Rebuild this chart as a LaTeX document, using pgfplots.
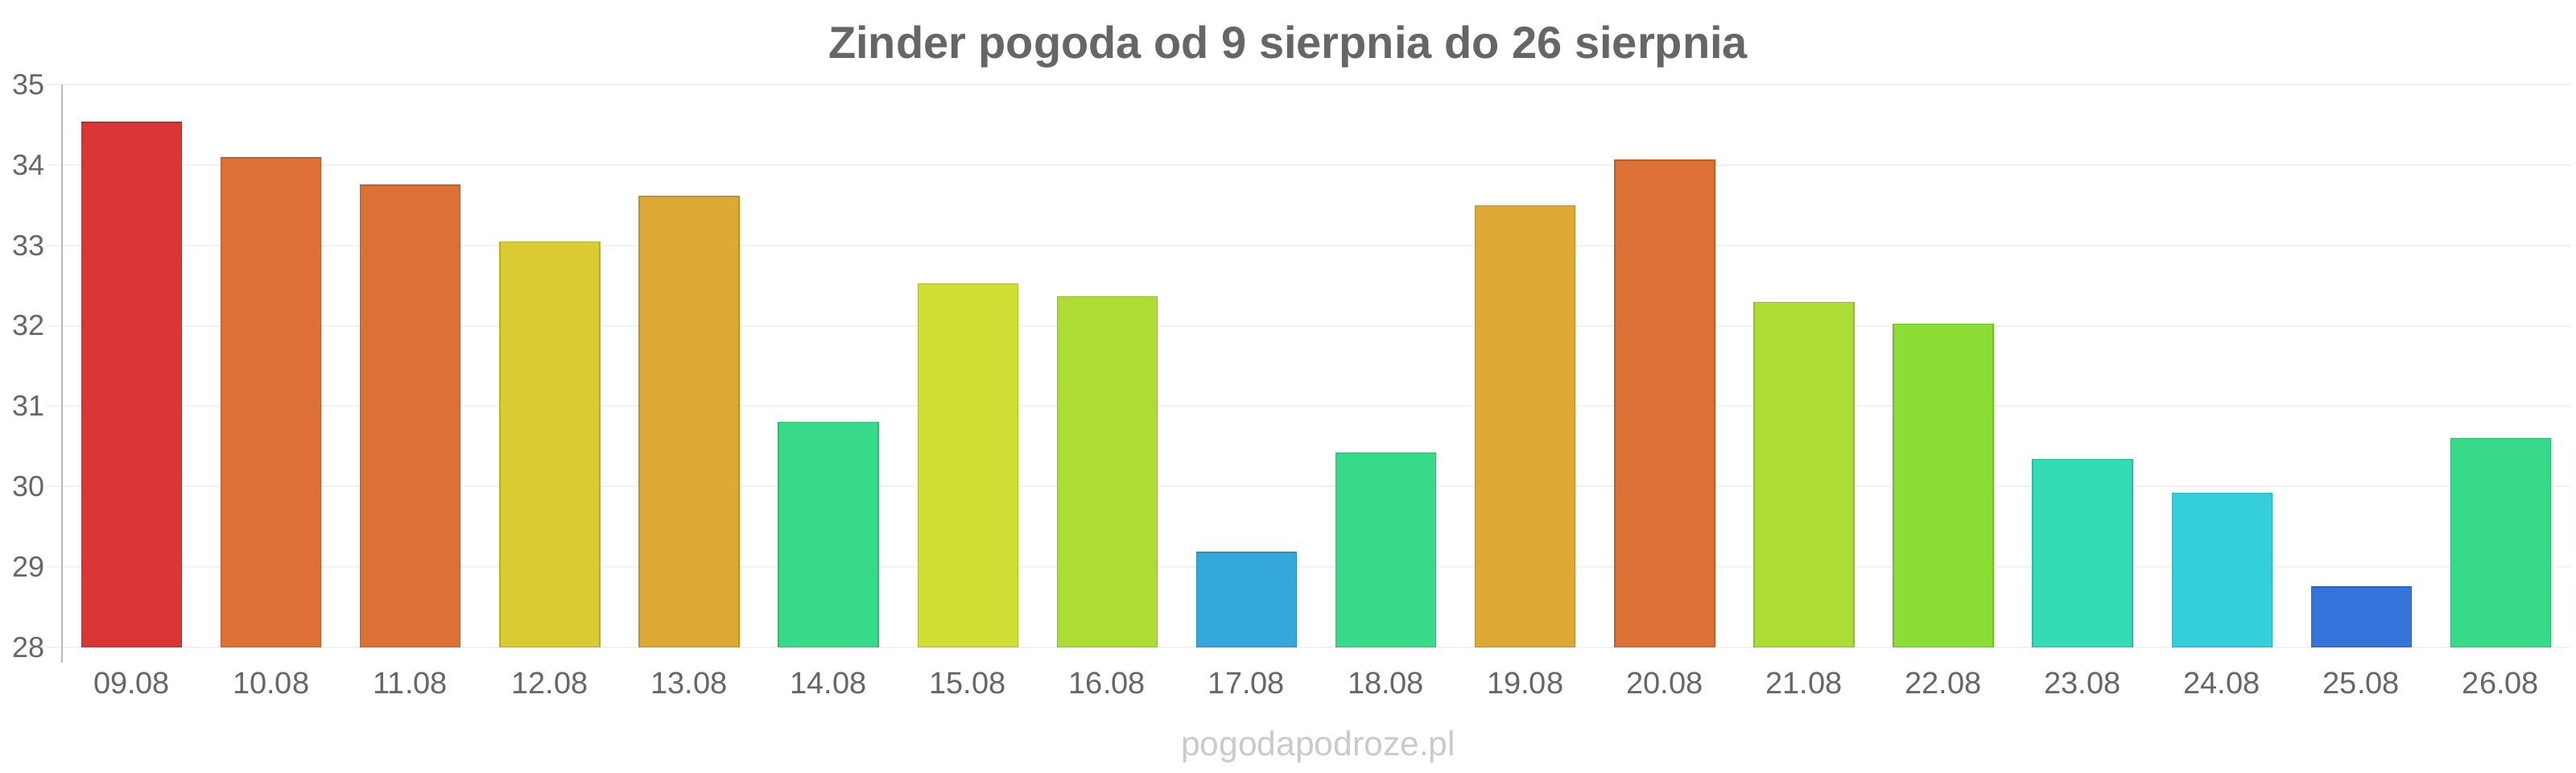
\documentclass[border=0pt]{standalone}
\usepackage{fontspec}
\setmainfont{Liberation Sans}
\usepackage{pgfplots}
\pgfplotsset{compat=1.18}
\definecolor{txt}{HTML}{666666}
\definecolor{wm}{HTML}{CACACA}
\definecolor{gridc}{HTML}{F2F2F2}
\definecolor{axisc}{HTML}{BBBBBB}
\definecolor{c1}{HTML}{DC3535}
\definecolor{c2}{HTML}{DD7035}
\definecolor{c3}{HTML}{DBCB33}
\definecolor{c4}{HTML}{DCA935}
\definecolor{c5}{HTML}{36DA88}
\definecolor{c6}{HTML}{D0DD35}
\definecolor{c7}{HTML}{ADDD35}
\definecolor{c8}{HTML}{35A8DB}
\definecolor{c9}{HTML}{8ADD35}
\definecolor{c10}{HTML}{35DBB5}
\definecolor{c11}{HTML}{35CFDB}
\definecolor{c12}{HTML}{3575DB}
\begin{document}
\begin{tikzpicture}
\path[use as bounding box] (0,0) rectangle (800pt,240pt);
\begin{axis}[
  at={(19.25pt,39pt)}, anchor=south west,
  scale only axis, width=779pt, height=174.75pt,
  xmin=-0.5, xmax=17.5, ymin=28, ymax=35,
  axis line style={draw=none},
  ytick={28,29,30,31,32,33,34,35},
  xtick={0,1,2,3,4,5,6,7,8,9,10,11,12,13,14,15,16,17},
  xticklabels={09.08,10.08,11.08,12.08,13.08,14.08,15.08,16.08,17.08,18.08,19.08,20.08,21.08,22.08,23.08,24.08,25.08,26.08},
  major tick length=0pt,
  ymajorgrids, y grid style={color=gridc, line width=0.5pt},
  /pgf/number format/assume math mode=true,
  ticklabel style={text=txt},
  yticklabel style={anchor=east, inner sep=0pt, xshift=-5.25pt, font=\fontsize{9}{9}\selectfont},
  xticklabel style={anchor=base, inner sep=0pt, yshift=-14.5pt, font=\fontsize{9.5}{9.5}\selectfont},
  ybar, bar width=31pt,
  clip mode=individual,
  b/.style={fill=#1, draw=#1!85!black, line width=0.35pt, bar shift=0pt},
]
\pgfplotsinvokeforeach{28,29,30,31,32,33,34,35}{\draw[gridc, line width=0.5pt] ([xshift=-5pt]axis cs:-0.5,#1) -- (axis cs:-0.5,#1);}
\addplot[b=c1]  coordinates {(0,34.53)};
\addplot[b=c2]  coordinates {(1,34.09)};
\addplot[b=c2]  coordinates {(2,33.75)};
\addplot[b=c3]  coordinates {(3,33.04)};
\addplot[b=c4]  coordinates {(4,33.61)};
\addplot[b=c5]  coordinates {(5,30.80)};
\addplot[b=c6]  coordinates {(6,32.52)};
\addplot[b=c7]  coordinates {(7,32.36)};
\addplot[b=c8]  coordinates {(8,29.18)};
\addplot[b=c5]  coordinates {(9,30.42)};
\addplot[b=c4]  coordinates {(10,33.49)};
\addplot[b=c2]  coordinates {(11,34.06)};
\addplot[b=c7]  coordinates {(12,32.29)};
\addplot[b=c9]  coordinates {(13,32.02)};
\addplot[b=c10] coordinates {(14,30.34)};
\addplot[b=c11] coordinates {(15,29.92)};
\addplot[b=c12] coordinates {(16,28.75)};
\addplot[b=c5]  coordinates {(17,30.60)};
\draw[axisc, line width=0.5pt] (axis cs:-0.5,35) -- ([yshift=-4.75pt]axis cs:-0.5,28);
\end{axis}
\node[anchor=base, inner sep=0pt, font=\bfseries\fontsize{14}{14}\selectfont, text=txt] at (400pt,221.8pt) {Zinder pogoda od 9 sierpnia do 26 sierpnia};
\node[anchor=base, inner sep=0pt, font=\fontsize{10.65}{10.65}\selectfont, text=wm] at (409.4pt,5.25pt) {pogodapodroze.pl};
\end{tikzpicture}
\end{document}
